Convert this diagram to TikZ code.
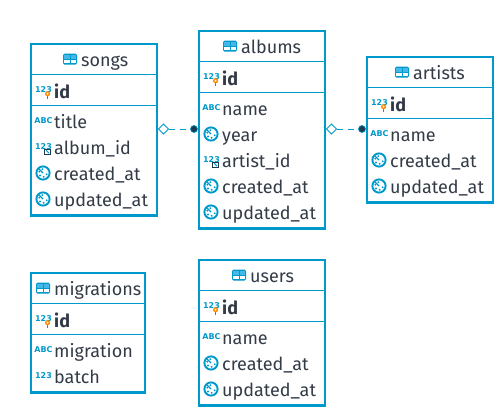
\documentclass[tikz,border=0pt]{standalone}
\usepackage{fontspec}
\setmainfont{Fira Sans}
\newfontfamily\iconfont{DejaVu Sans}
\usetikzlibrary{shapes.geometric}
\definecolor{tableblue}{HTML}{0099CC}
\definecolor{celllight}{HTML}{45B8E8}
\definecolor{rowink}{HTML}{333B47}
\definecolor{dotink}{HTML}{1F3A4D}
\tikzset{
  tablebox/.style={draw=tableblue, line width=2.4pt, fill=white, anchor=north west, inner sep=0pt, outer sep=0pt},
  titlelabel/.style={anchor=base west, text=rowink, font=\fontsize{18}{18}\selectfont, inner sep=0pt},
  rowlabel/.style={anchor=base west, text=rowink, font=\fontsize{18}{18}\selectfont, inner sep=0pt},
  idlabel/.style={rowlabel, font=\fontsize{18}{18}\selectfont\bfseries},
  icontext/.style={text=tableblue, inner sep=0pt, font=\iconfont\fontsize{8}{8}\selectfont\bfseries},
  rowsep/.style={draw=tableblue, line width=1pt},
  fkdiamond/.style={diamond, draw=tableblue, fill=white, line width=0.9pt, minimum size=10.5pt, inner sep=0pt},
  fkdot/.style={circle, fill=dotink, draw=tableblue, line width=0.7pt, minimum size=7pt, inner sep=0pt},
  fkline/.style={draw=tableblue, line width=0.9pt, dash pattern=on 6pt off 5pt},
  pics/tableicon/.style={code={
    \fill[tableblue, rounded corners=1.5pt] (-7,-5.5) rectangle (7,5.5);
    \fill[celllight] (-5.7,-3.8) rectangle (-0.5,-0.5);
    \fill[celllight] (0.5,-3.8) rectangle (5.7,-0.5);
    \fill[white] (-5.7,0.5) rectangle (-0.5,3.8);
    \fill[white] (0.5,0.5) rectangle (5.7,3.8);
  }},
  pics/abcicon/.style={code={
    \node[icontext] (tag) at (0.5,-1.5) {ABC};
  }},
  pics/numicon/.style={code={
    \node[icontext] (tag) at (0.5,-1.5) {123};
  }},
  pics/pkicon/.style={code={
    \node[icontext] (tag) at (0.5,-1.5) {123};
    \fill[tableblue] (3.9,1) rectangle (5.3,7.5);
    \fill[orange!90!yellow] (4.6,2.7) circle (2.6);
    \fill[white] (4.6,2.7) circle (1.1);
  }},
  pics/fkicon/.style={code={
    \node[icontext] (tag) at (0.5,-1.5) {123};
    \draw[dotink, line width=0.8pt, fill=white] (1.8,1) rectangle (7.4,6.6);
    \draw[tableblue, line width=1pt] (3.2,2.4) -- (6,5.2);
  }},
  pics/clockicon/.style={code={
    \draw[tableblue, line width=1.9pt, fill=white] (0,-1) circle (6.6);
    \foreach \a in {20,80,140,200,260} {
      \fill[tableblue] (\a:3.9) ++(0,-1) circle (1.05);
    }
    \draw[tableblue, line width=1.3pt] (0,-1) -- (-3.8,-4.8);
  }},
}
\begin{document}
\begin{tikzpicture}[x=1pt, y=-1pt]
  \useasboundingbox (0,0) rectangle (504,416);
  % tables
  \node[tablebox, minimum width=126pt, minimum height=171.5pt] (songs) at (31,44) {};
  \node[tablebox, minimum width=126pt, minimum height=197.5pt] (albums) at (199,31) {};
  \node[tablebox, minimum width=126pt, minimum height=145.5pt] (artists) at (367,57) {};
  \node[tablebox, minimum width=114pt, minimum height=119.5pt] (migrations) at (31,273) {};
  \node[tablebox, minimum width=126pt, minimum height=145.5pt] (users) at (199,260) {};
  % title, id row and separators of each table
  \foreach \tbl/\left/\top/\wide/\titlex/\iconx in {songs/31/44/126/81/70,albums/199/31/126/241/230,artists/367/57/126/413/402,migrations/31/273/114/54/43,users/199/260/126/250/239} {
    \pic (\tbl icon) at (\iconx,{\top+15}) {tableicon};
    \node[titlelabel] (\tbl title) at (\titlex,{\top+22}) {\tbl};
    \draw[rowsep] (\left,{\top+30.5}) -- ({\left+\wide},{\top+30.5});
    \draw[rowsep] (\left,{\top+61.5}) -- ({\left+\wide},{\top+61.5});
    \pic (\tbl pk) at ({\left+12},{\top+47}) {pkicon};
    \node[idlabel] (\tbl id) at ({\left+23},{\top+54}) {id};
  }
  % rows
  \foreach \i/\icon/\rowtext in {0/abcicon/title,1/fkicon/album\_id,2/clockicon/created\_at,3/clockicon/updated\_at} {
    \pic (songsrow\i) at (43,{122+26*\i}) {\icon};
    \node[rowlabel] (songslabel\i) at (54,{128+26*\i}) {\rowtext};
  }
  \foreach \i/\icon/\rowtext in {0/abcicon/name,1/clockicon/year,2/fkicon/artist\_id,3/clockicon/created\_at,4/clockicon/updated\_at} {
    \pic (albumsrow\i) at (211,{109+26*\i}) {\icon};
    \node[rowlabel] (albumslabel\i) at (222,{115+26*\i}) {\rowtext};
  }
  \foreach \i/\icon/\rowtext in {0/abcicon/name,1/clockicon/created\_at,2/clockicon/updated\_at} {
    \pic (artistsrow\i) at (379,{135+26*\i}) {\icon};
    \node[rowlabel] (artistslabel\i) at (390,{141+26*\i}) {\rowtext};
  }
  \foreach \i/\icon/\rowtext in {0/abcicon/migration,1/numicon/batch} {
    \pic (migrationsrow\i) at (43,{351+26*\i}) {\icon};
    \node[rowlabel] (migrationslabel\i) at (54,{357+26*\i}) {\rowtext};
  }
  \foreach \i/\icon/\rowtext in {0/abcicon/name,1/clockicon/created\_at,2/clockicon/updated\_at} {
    \pic (usersrow\i) at (211,{338+26*\i}) {\icon};
    \node[rowlabel] (userslabel\i) at (222,{344+26*\i}) {\rowtext};
  }
  % foreign keys
  \node[fkdiamond] (songsfk) at (163.5,129) {};
  \node[fkdot] (albumspk) at (194,129) {};
  \node[fkdiamond] (albumsfk) at (331.5,129) {};
  \node[fkdot] (artistspk) at (362,129) {};
  \draw[fkline] (songsfk) -- (albumspk);
  \draw[fkline] (albumsfk) -- (artistspk);
\end{tikzpicture}
\end{document}
